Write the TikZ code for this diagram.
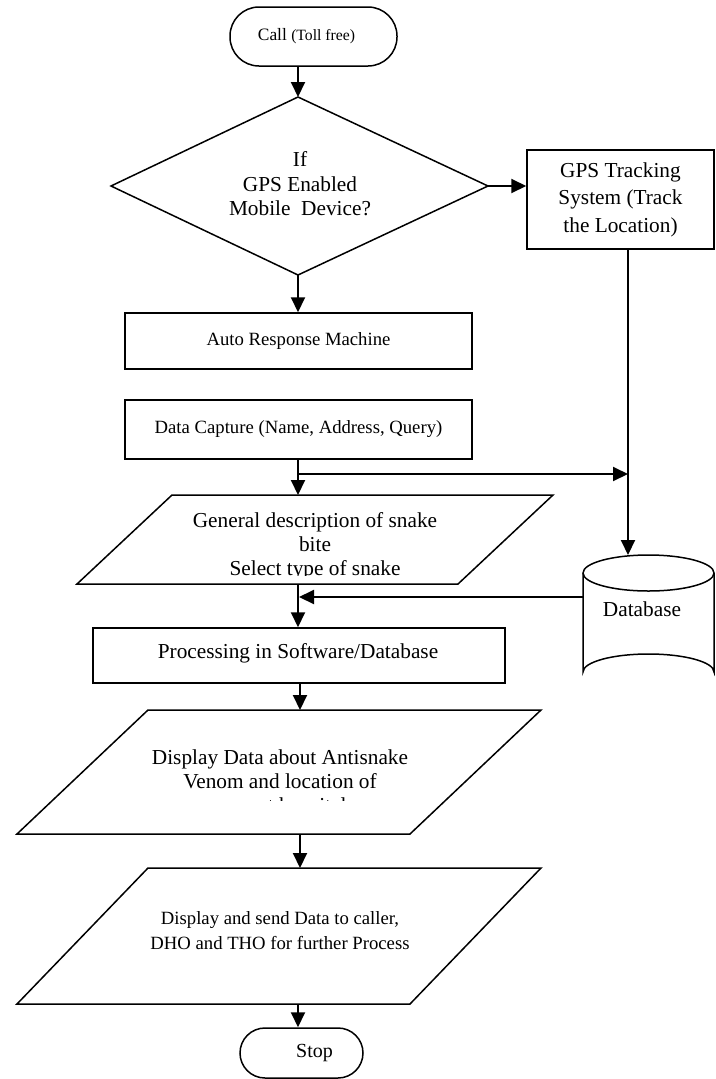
\documentclass[tikz,border=0pt]{standalone}
\usepackage{fontspec}
\setmainfont{Liberation Serif}
\usetikzlibrary{arrows.meta}
\begin{document}
\begin{tikzpicture}[x=1pt,y=-1pt,
  outline/.style={draw, line width=1.5pt},
  boxnode/.style={draw, line width=1.5pt, inner sep=0pt},
  wire/.style={line width=2pt},
  conn/.style={line width=2pt, -{Triangle[length=15pt,width=14pt]}},
  bigtxt/.style={font=\fontsize{21.3}{24.5}\selectfont, align=center, inner sep=0pt},
  midtxt/.style={font=\fontsize{18.7}{25}\selectfont, align=center, inner sep=0pt}]
\useasboundingbox (0,0) rectangle (715,1079);

% Call terminal
\node[boxnode, rounded corners=29pt, minimum width=167pt, minimum height=59pt,
  font=\fontsize{17.4}{20}\selectfont] (call) at (313.5,36.5)
  {Call {\fontsize{15.7}{18}\selectfont (Toll free)}\hspace*{14pt}};

% Decision diamond
\coordinate (dtop) at (298,97);
\coordinate (dleft) at (111,186);
\coordinate (dright) at (488,186);
\coordinate (dbot) at (298,275);
\draw[outline, line join=miter] (dtop) -- (dright) -- (dbot) -- (dleft) -- cycle;
\node[bigtxt, font=\fontsize{21.3}{24.5}\selectfont] (dia) at (300,184) {If\\GPS Enabled\\Mobile~~Device?};

% GPS tracking box
\node[boxnode, minimum width=187pt, minimum height=99pt, bigtxt, draw, line width=1.5pt,
  font=\fontsize{21.3}{27.5}\selectfont] (gps) at (620.5,199.5)
  {GPS Tracking\\System (Track\\the Location)};

% Auto response / data capture
\node[boxnode, minimum width=347pt, minimum height=56pt, midtxt, draw, line width=1.5pt] (auto) at (298.5,341) {Auto Response Machine};
\node[boxnode, minimum width=347pt, minimum height=59pt, midtxt, draw, line width=1.5pt] (cap) at (298.5,429.5) {Data Capture (Name, Address, Query)};

% Parallelogram 1
\coordinate (pa) at (172,495);
\coordinate (pb) at (553,495);
\coordinate (pc) at (458,584);
\coordinate (pd) at (77,584);
\draw[outline] (pa) -- (pb) -- (pc) -- (pd) -- cycle;
\begin{scope}
  \clip (0,495) rectangle (715,575);
  \node[bigtxt, font=\fontsize{21.3}{24}\selectfont] (gen) at (315,546)
    {General description of snake\\bite\\Select type of snake};
\end{scope}

% Database cylinder
\coordinate (dbl) at (583,573);
\coordinate (dbr) at (714,573);
\draw[outline] (dbl) arc[start angle=180, end angle=-180, x radius=65.5pt, y radius=18pt];
\draw[outline] (dbl) -- (583,672) arc[start angle=180, end angle=360, x radius=65.5pt, y radius=-18pt] -- (dbr);
\coordinate (dbtop) at (628,555);
\coordinate (dbside) at (583,597);
\node[bigtxt] (db) at (642,609) {Database};

% Processing box
\node[boxnode, minimum width=412pt, minimum height=55pt, bigtxt, draw, line width=1.5pt] (proc) at (299,655.5) {};
\node[bigtxt] (proct) at (298,653) {Processing in Software/Database};

% Parallelogram 2
\coordinate (qa) at (148,710);
\coordinate (qb) at (541,710);
\coordinate (qc) at (410,834);
\coordinate (qd) at (17,834);
\draw[outline] (qa) -- (qb) -- (qc) -- (qd) -- cycle;
\begin{scope}
  \clip (0,710) rectangle (715,800);
  \node[bigtxt, font=\fontsize{21.3}{24}\selectfont] (disp) at (280,783)
    {Display Data about Antisnake\\Venom and location of\\nearest hospital};
\end{scope}

% Parallelogram 3
\coordinate (ra) at (148,868);
\coordinate (rb) at (541,868);
\coordinate (rc) at (410,1004);
\coordinate (rd) at (17,1004);
\draw[outline] (ra) -- (rb) -- (rc) -- (rd) -- cycle;
\node[midtxt] (send) at (280,931)
  {Display and send Data to caller,\\DHO and THO for further Process};

% Stop terminal
\node[boxnode, rounded corners=25pt, minimum width=123pt, minimum height=50pt,
  bigtxt, draw, line width=1.5pt, font=\fontsize{20}{24}\selectfont] (stop) at (301.5,1053)
  {\hspace*{26pt}Stop};

% Connectors
\draw[conn] (call.south -| dtop) -- (dtop);
\draw[conn] (dright) -- (dright -| gps.west);
\draw[conn] (dbot) -- (auto.north -| dbot);
\coordinate (capb) at (cap.south -| dbot);
\coordinate (split) at (298,474);
\coordinate (gline) at (628,474);
\draw[conn] (capb) -- (pa -| dbot);
\draw[conn] (split) -- (gline);
\draw[conn] (gps.south -| dbtop) -- (dbtop);
\coordinate (join) at (299,597);
\draw[conn] (dbside) -- (join);
\draw[conn] (pd -| dbot) -- (proc.north -| dbot);
\draw[conn] (proc.south -| 300,0) -- (qa -| 300,0);
\draw[conn] (qd -| 300,0) -- (ra -| 300,0);
\draw[conn] (rd -| dbot) -- (stop.north -| dbot);
\end{tikzpicture}
\end{document}
